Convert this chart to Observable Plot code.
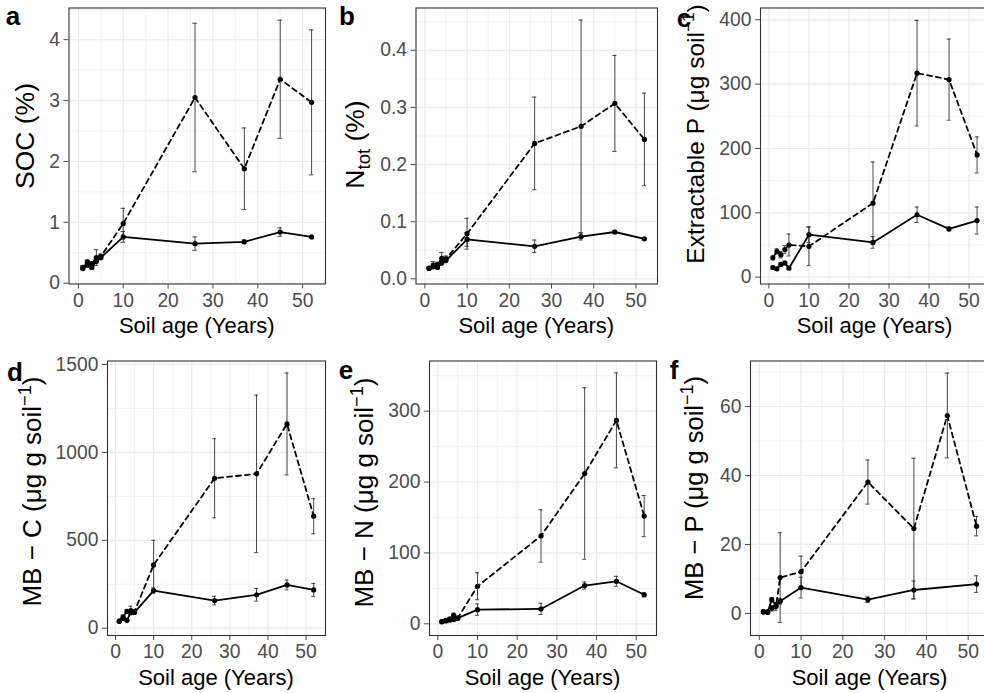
<!DOCTYPE html>
<html>
<head>
<meta charset="utf-8">
<script src="https://cdn.jsdelivr.net/npm/d3@7"></script>
<script src="https://cdn.jsdelivr.net/npm/@observablehq/plot@0.6"></script>
<style>
  body { margin: 0; background: #fff; }
  #fig { position: relative; width: 984px; height: 693px; overflow: hidden; background: #fff; }
  #fig svg { position: absolute; left: 0; top: 0; }
</style>
</head>
<body>
<div id="fig"></div>
<script>
const FONT = '"Liberation Sans", Arial, Helvetica, sans-serif';

// Soil age of each sampled site (years)
const ages = [1, 2, 3, 4, 5, 10, 26, 37, 45, 52];
const xTicks = [0, 10, 20, 30, 40, 50];
const xMinor = [5, 15, 25, 35, 45];
const xDomain = [-2.1, 55.1];

// a: soil organic carbon (%)
const socSolid     = [0.24, 0.35, 0.26, 0.36, 0.42, 0.76, 0.65, 0.68, 0.84, 0.76];
const socSolidErr  = [0.02, 0.03, 0.02, 0.03, 0.03, 0.09, 0.11, 0.03, 0.07, 0.01];
const socDashed    = [0.26, 0.30, 0.32, 0.42, 0.44, 0.98, 3.05, 1.88, 3.35, 2.97];
const socDashedErr = [0.03, 0.04, 0.03, 0.13, 0.04, 0.25, 1.22, 0.67, 0.97, 1.19];

// b: total nitrogen (%)
const ntotSolid     = [0.018, 0.021, 0.020, 0.028, 0.032, 0.069, 0.057, 0.074, 0.082, 0.070];
const ntotSolidErr  = [0.002, 0.003, 0.002, 0.004, 0.003, 0.012, 0.011, 0.006, 0.003, 0.002];
const ntotDashed    = [0.019, 0.024, 0.025, 0.036, 0.035, 0.079, 0.237, 0.267, 0.307, 0.244];
const ntotDashedErr = [0.002, 0.006, 0.004, 0.010, 0.005, 0.027, 0.081, 0.186, 0.084, 0.081];

// c: extractable P
const extPSolid     = [15, 13, 20, 22, 14, 66, 54, 97, 75, 88];
const extPSolidErr  = [2, 2, 3, 3, 2, 12, 9, 12, 3, 21];
const extPDashed    = [30, 40, 35, 43, 50, 48, 115, 317, 307, 190];
const extPDashedErr = [3, 4, 5, 6, 17, 30, 64, 82, 63, 28];

// d: microbial biomass C
const mbcSolid     = [40, 55, 45, 90, 90, 214, 157, 190, 246, 218];
const mbcSolidErr  = [5, 8, 6, 12, 10, 15, 24, 36, 28, 37];
const mbcDashed    = [40, 65, 95, 100, 95, 360, 853, 878, 1162, 637];
const mbcDashedErr = [6, 10, 12, 25, 10, 140, 225, 448, 290, 100];

// e: microbial biomass N
const mbnSolid     = [3, 4, 5, 6, 8, 20, 21, 54, 60, 41];
const mbnSolidErr  = [0.5, 1, 1, 1, 1, 8, 8, 5, 7, 3];
const mbnDashed    = [3, 5, 7, 12, 8, 53, 124, 212, 287, 152];
const mbnDashedErr = [0.5, 1, 1.5, 3, 1, 19, 37, 121, 67, 29];

// f: microbial biomass P (no solid-line value at 45 years)
const mbpSolid     = [0.5, 0.3, 4.0, 2.3, 3.5, 7.5, 4.0, 6.8, null, 8.5];
const mbpSolidErr  = [0.5, 0.3, 0.5, 0.8, 0.8, 3.0, 0.8, 2.6, null, 2.4];
const mbpDashed    = [0.4, 0.5, 1.5, 2.0, 10.4, 12.1, 38.1, 24.6, 57.4, 25.3];
const mbpDashedErr = [0.3, 0.3, 0.8, 1.2, 13.0, 4.5, 6.4, 20.4, 12.3, 2.8];

const ugSoil = [{t: "MB − "}, null, {t: " (μg g soil"}, {t: "−1", sup: true}, {t: ")"}];
function mbTitle(el) { return ugSoil.map(s => s || {t: el}); }

const panels = [
  {tag: "a", tagXY: [13, 25], frame: [68.5, 7.5, 325, 283.5], yDomain: [-0.013, 4.52],
   yTicks: [0, 1, 2, 3, 4], yMinor: [0.5, 1.5, 2.5, 3.5, 4.5], fmt: d3.format("d"),
   solid: socSolid, solidErr: socSolidErr, dashed: socDashed, dashedErr: socDashedErr,
   yTitle: [{t: "SOC (%)"}], yTitleXY: [34, 136], yTitleSize: 26.5, xTitleY: 333},
  {tag: "b", tagXY: [347, 25], frame: [415.5, 7.5, 657, 283.5], yDomain: [-0.009, 0.474],
   yTicks: [0, 0.1, 0.2, 0.3, 0.4], yMinor: [0.05, 0.15, 0.25, 0.35, 0.45], fmt: d3.format(".1f"),
   solid: ntotSolid, solidErr: ntotSolidErr, dashed: ntotDashed, dashedErr: ntotDashedErr,
   yTitle: [{t: "N"}, {t: "tot", sub: true}, {t: " (%)"}], yTitleXY: [363.5, 144.5], yTitleSize: 26.5, xTitleY: 333},
  {tag: "c", tagXY: [684, 27], frame: [760, 7.5, 989, 283.5], yDomain: [-10.6, 418.3],
   yTicks: [0, 100, 200, 300, 400], yMinor: [50, 150, 250, 350], fmt: d3.format("d"),
   solid: extPSolid, solidErr: extPSolidErr, dashed: extPDashed, dashedErr: extPDashedErr,
   yTitle: [{t: "Extractable P (μg soil"}, {t: "−1", sup: true}, {t: ")"}], yTitleXY: [703.5, 134], yTitleSize: 24.5, xTitleY: 333},
  {tag: "d", tagXY: [15, 381], frame: [107, 360.5, 325, 635], yDomain: [-41.5, 1520],
   yTicks: [0, 500, 1000, 1500], yMinor: [250, 750, 1250], fmt: d3.format("d"),
   solid: mbcSolid, solidErr: mbcSolidErr, dashed: mbcDashed, dashedErr: mbcDashedErr,
   yTitle: mbTitle("C"), yTitleXY: [40.5, 491.5], yTitleSize: 26, xTitleY: 685},
  {tag: "e", tagXY: [346, 379], frame: [429, 360.5, 656, 635], yDomain: [-16.5, 370.8],
   yTicks: [0, 100, 200, 300], yMinor: [50, 150, 250, 350], fmt: d3.format("d"),
   solid: mbnSolid, solidErr: mbnSolidErr, dashed: mbnDashed, dashedErr: mbnDashedErr,
   yTitle: mbTitle("N"), yTitleXY: [372.5, 492.5], yTitleSize: 26, xTitleY: 685},
  {tag: "f", tagXY: [674, 379], frame: [750, 360.5, 989, 635], yDomain: [-6.4, 73.2],
   yTicks: [0, 20, 40, 60], yMinor: [10, 30, 50, 70], fmt: d3.format("d"),
   solid: mbpSolid, solidErr: mbpSolidErr, dashed: mbpDashed, dashedErr: mbpDashedErr,
   yTitle: mbTitle("P"), yTitleXY: [703, 488], yTitleSize: 25.5, xTitleY: 685}
];

const W = 1000, H = 693;
const fig = document.getElementById("fig");

for (const p of panels) {
  const [fl, ft, fr, fb] = p.frame;
  const inY = v => v >= p.yDomain[0] && v <= p.yDomain[1];
  const grid = "#ebebeb";
  const marks = [
    Plot.ruleY(p.yMinor.filter(inY), {stroke: grid, strokeWidth: 0.6}),
    Plot.ruleX(xMinor, {stroke: grid, strokeWidth: 0.6}),
    Plot.ruleY(p.yTicks, {stroke: grid, strokeWidth: 1.2}),
    Plot.ruleX(xTicks, {stroke: grid, strokeWidth: 1.2})
  ];
  const series = [
    {values: p.solid, err: p.solidErr, dash: null},
    {values: p.dashed, err: p.dashedErr, dash: "5,4"}
  ];
  for (const s of series) {
    const rows = ages
      .map((age, i) => ({age, mean: s.values[i], err: s.err[i]}))
      .filter(d => d.mean != null);
    const bar = {stroke: "#1a1a1a", strokeWidth: 0.8};
    marks.push(
      Plot.ruleX(rows, {x: "age", y1: d => d.mean - d.err, y2: d => d.mean + d.err, ...bar}),
      Plot.ruleY(rows, {y: d => d.mean - d.err, x1: d => d.age - 0.5, x2: d => d.age + 0.5, ...bar}),
      Plot.ruleY(rows, {y: d => d.mean + d.err, x1: d => d.age - 0.5, x2: d => d.age + 0.5, ...bar}),
      Plot.line(rows, {x: "age", y: "mean", stroke: "#000", strokeWidth: 1.8,
                       ...(s.dash ? {strokeDasharray: s.dash} : {})}),
      Plot.dot(rows, {x: "age", y: "mean", r: 2.6, fill: "#000"})
    );
  }
  marks.push(Plot.frame({stroke: "#333", strokeWidth: 1.1}));

  const svg = Plot.plot({
    width: W, height: H,
    marginLeft: fl, marginRight: W - fr, marginTop: ft, marginBottom: H - fb,
    x: {domain: xDomain, ticks: xTicks, tickFormat: d3.format("d"), tickSize: 5, tickPadding: 4, label: null},
    y: {domain: p.yDomain, ticks: p.yTicks, tickFormat: p.fmt, tickSize: 5, tickPadding: 4, label: null},
    style: {fontSize: "19.3px", fontFamily: FONT, color: "#4d4d4d", background: "transparent",
            maxWidth: "none", overflow: "visible"},
    marks
  });

  const g = d3.select(svg).append("g").attr("font-family", FONT).attr("fill", "#000");
  g.append("text")
    .attr("x", (fl + fr) / 2).attr("y", p.xTitleY)
    .attr("text-anchor", "middle").attr("font-size", 22)
    .text("Soil age (Years)");

  const fs = p.yTitleSize;
  const yt = g.append("text")
    .attr("transform", `translate(${p.yTitleXY[0]},${p.yTitleXY[1]}) rotate(-90)`)
    .attr("text-anchor", "middle").attr("font-size", fs);
  let shift = 0;
  for (const seg of p.yTitle) {
    const target = seg.sub ? 0.25 * fs : seg.sup ? -0.38 * fs : 0;
    const ts = yt.append("tspan").text(seg.t);
    if (target !== shift) ts.attr("dy", target - shift);
    if (seg.sub || seg.sup) ts.attr("font-size", 0.7 * fs);
    shift = target;
  }

  g.append("text")
    .attr("x", p.tagXY[0]).attr("y", p.tagXY[1])
    .attr("font-size", 26).attr("font-weight", "bold")
    .text(p.tag);

  fig.appendChild(svg);
}
</script>
</body>
</html>
